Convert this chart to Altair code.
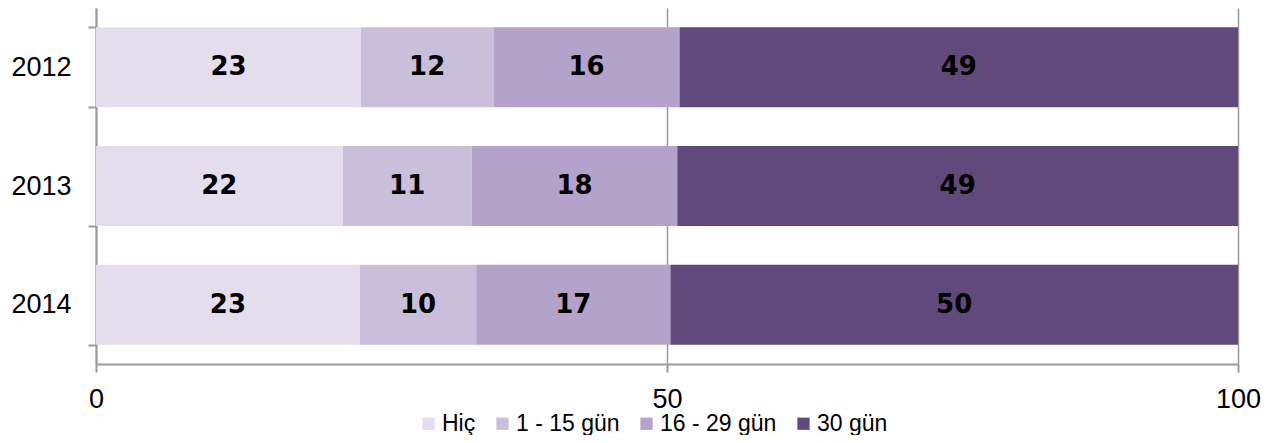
import altair as alt
import pandas as pd

years = ["2012", "2013", "2014"]
categories = ["Hiç", "1 - 15 gün", "16 - 29 gün", "30 gün"]
colors = ["#E4DEEC", "#C9BFDA", "#B3A2C9", "#604A7B"]

hic = [23.2, 21.6, 23.1]
g1_15 = [11.6, 11.3, 10.2]
g16_29 = [16.3, 18.0, 17.0]
g30 = [48.9, 49.1, 49.7]

series = [hic, g1_15, g16_29, g30]
rows = []
for ci, (cat, vals) in enumerate(zip(categories, series)):
    for yi, yr in enumerate(years):
        rows.append({"year": yr, "cat": cat, "order": ci, "value": vals[yi]})
df = pd.DataFrame(rows)

FONT = "Liberation Sans"

base = alt.Chart(df).transform_stack(
    stack="value", as_=["x0", "x1"], groupby=["year"], sort=[alt.SortField("order")]
)

y_enc = alt.Y(
    "year:N",
    sort=years,
    title=None,
    scale=alt.Scale(paddingInner=0.326, paddingOuter=0.163),
    axis=alt.Axis(
        tickBand="extent",
        labelFont=FONT,
        labelFontSize=27,
        labelColor="#000000",
        labelPadding=17,
        tickSize=8,
        tickColor="#9a9a9a",
        tickWidth=2,
        domainColor="#9a9a9a",
        domainWidth=2,
    ),
)

bars = base.mark_bar().encode(
    y=y_enc,
    x=alt.X(
        "x0:Q",
        title=None,
        scale=alt.Scale(domain=[0, 100], nice=False),
        axis=alt.Axis(
            values=[0, 50, 100],
            labelFont=FONT,
            labelFontSize=27,
            labelColor="#000000",
            labelPadding=14,
            tickSize=8,
            tickColor="#9a9a9a",
            tickWidth=2,
            domainColor="#9a9a9a",
            domainWidth=2,
            grid=True,
            gridColor="#9a9a9a",
            gridWidth=1.5,
            labelFlush=False,
        ),
    ),
    x2="x1:Q",
    color=alt.Color(
        "cat:N",
        scale=alt.Scale(domain=categories, range=colors),
        title=None,
        legend=alt.Legend(
            orient="none",
            legendX=321,
            legendY=404,
            direction="horizontal",
            columns=4,
            symbolType="square",
            symbolSize=150,
            symbolStrokeWidth=0,
            labelFont=FONT,
            labelFontSize=23,
            labelColor="#000000",
            labelOffset=2,
            columnPadding=15,
            labelLimit=300,
        ),
    ),
    order=alt.Order("order:Q"),
)

texts = base.transform_calculate(mid="(datum.x0 + datum.x1) / 2").mark_text(
    font="DejaVu Sans", fontWeight="bold", fontSize=26, color="#000000", baseline="middle"
).encode(
    y=alt.Y("year:N", sort=years),
    x=alt.X("mid:Q"),
    text=alt.Text("value:Q", format=".0f"),
)

chart = (
    alt.layer(bars, texts)
    .properties(
        width=1142,
        height=356,
        autosize=alt.AutoSizeParams(type="none"),
        padding={"left": 88, "top": 0, "right": 34, "bottom": 71},
    )
    .configure_view(stroke=None)
    .configure_axis(gridDash=[], labelBound=False)
)

chart.save("out.html", embed_options={"renderer": "svg", "actions": False})
